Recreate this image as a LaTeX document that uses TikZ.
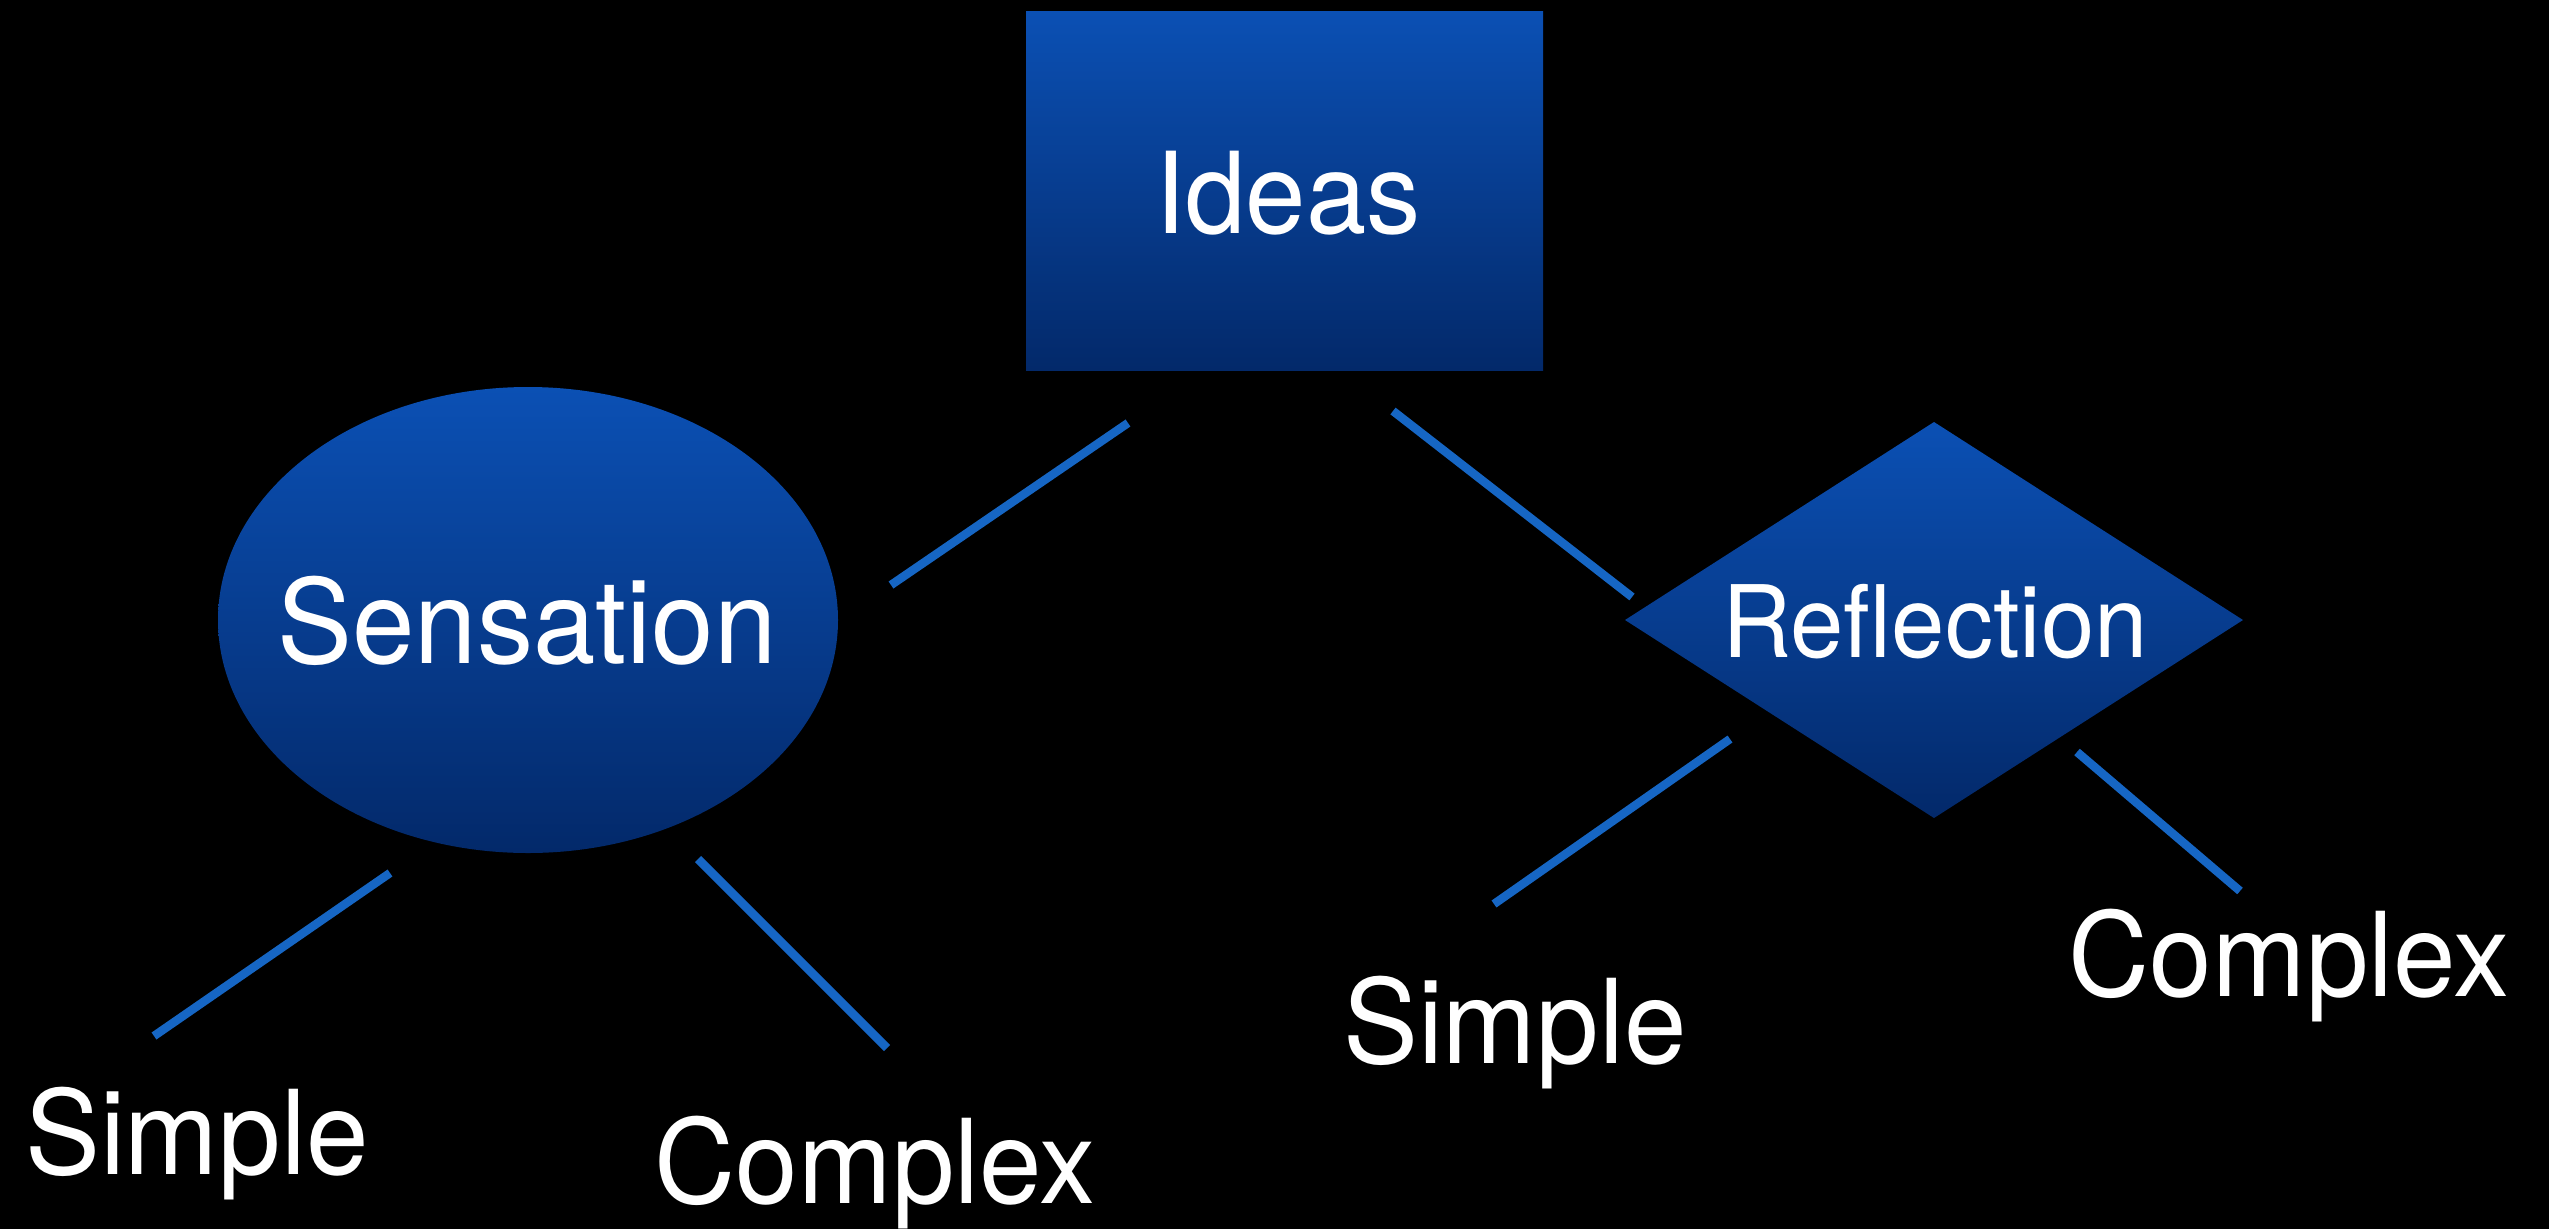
\documentclass[tikz,border=0pt]{standalone}
\usepackage{fontspec}
\setmainfont{TeX Gyre Heros}[FakeStretch=0.96]
\usetikzlibrary{shapes.geometric}
\definecolor{boxtop}{HTML}{0B50B4}
\definecolor{boxbottom}{HTML}{03296A}
\definecolor{linkblue}{HTML}{1666C4}
\begin{document}
\begin{tikzpicture}[x=1pt,y=-1pt,
  shaded/.style={top color=boxtop,bottom color=boxbottom,draw=none,inner sep=0pt,outer sep=0pt},
  word/.style={text=white,inner sep=0pt,anchor=base,font=\fontsize{117}{120}\selectfont},
  link/.style={draw=linkblue,line width=8.5pt}]
% black backdrop fixing the page size
\fill[black] (0,0) rectangle (2549,1229);

% the three concept shapes
\node[shaded,rectangle,minimum width=517pt,minimum height=359pt] (ideas) at (1284.5,190.5) {};
\node[shaded,ellipse,minimum width=620pt,minimum height=466pt] (sens) at (528,620) {};
\node[shaded,diamond,minimum width=618pt,minimum height=396pt] (refl) at (1934,620) {};

% their captions
\node[word,font=\fontsize{113}{116}\selectfont] (ideastext) at (1288,233) {Ideas};
\node[word] (senstext) at (527,663) {Sensation};
\node[word,font=\fontsize{100}{104}\selectfont] (refltext) at (1935,657) {Reflection};

% leaf labels
\node[word] (simpleL) at (197,1174) {Simple};
\node[word] (complexL) at (875,1203) {Complex};
\node[word] (simpleR) at (1515,1063) {Simple};
\node[word] (complexR) at (2289,996) {Complex};

% free-standing link ends
\coordinate (a1) at (891,585);   \coordinate (a2) at (1128,423);
\coordinate (b1) at (1393,411);  \coordinate (b2) at (1632,597);
\coordinate (c1) at (390,873);   \coordinate (c2) at (154,1036);
\coordinate (d1) at (698,859);   \coordinate (d2) at (887,1048);
\coordinate (e1) at (1730,739);  \coordinate (e2) at (1494,904);
\coordinate (f1) at (2077,752);  \coordinate (f2) at (2240,891);

\draw[link] (a1) -- (a2);
\draw[link] (b1) -- (b2);
\draw[link] (c1) -- (c2);
\draw[link] (d1) -- (d2);
\draw[link] (e1) -- (e2);
\draw[link] (f1) -- (f2);
\end{tikzpicture}
\end{document}
